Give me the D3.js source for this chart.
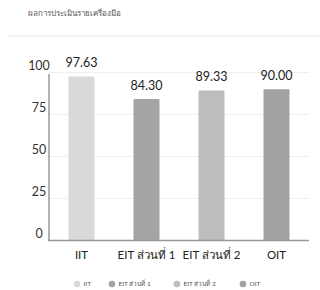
<!DOCTYPE html>
<html><head><meta charset="utf-8">
<script src="https://cdn.jsdelivr.net/npm/d3@7"></script>
<style>body{margin:0;background:#fff}svg{display:block}text{font-family:Lato,"Noto Sans",sans-serif}</style>
</head><body><svg id="c" width="320" height="290"></svg>
<script>
const title = "ผลการประเมินรายเครื่องมือ";
const categories = ["IIT", "EIT ส่วนที่ 1", "EIT ส่วนที่ 2", "OIT"];
const values = [97.63, 84.30, 89.33, 90.00];
const colors = ["#d9d9d9", "#a4a4a4", "#bdbdbd", "#a2a2a2"];
const yTicks = [0, 25, 50, 75, 100];

const svg = d3.select("#c");
svg.append("text").attr("x", 28).attr("y", 16).attr("font-size", 8).attr("fill", "#555").text(title);
svg.append("rect").attr("x", 8).attr("y", 35).attr("width", 312).attr("height", 2).attr("fill", "#f3f3f3");

const x = d3.scaleBand().domain(categories).range([49, 309]).paddingInner(0.6).paddingOuter(0.3);
const y = d3.scaleLinear().domain([0, 100]).range([240.5, 72.5]);

svg.append("g").selectAll("line").data(yTicks.filter(t => t > 0)).join("line")
  .attr("x1", 49).attr("x2", 309).attr("y1", d => y(d)).attr("y2", d => y(d))
  .attr("stroke", "#efefef").attr("stroke-width", 1);

svg.append("g").selectAll("text").data(yTicks).join("text")
  .attr("x", 39).attr("y", d => y(d) - 3).attr("text-anchor", "middle")
  .attr("font-size", 12.5).attr("fill", "#333").text(d => d);

svg.append("g").selectAll("rect").data(values).join("rect")
  .attr("x", (d, i) => x(categories[i])).attr("width", x.bandwidth())
  .attr("y", d => y(d)).attr("height", d => y(0) - y(d))
  .attr("rx", 1).attr("fill", (d, i) => colors[i]);

svg.append("g").selectAll("text").data(values).join("text")
  .attr("x", (d, i) => x(categories[i]) + x.bandwidth() / 2).attr("y", d => y(d) - 9)
  .attr("text-anchor", "middle").attr("font-size", 12.5).attr("fill", "#222")
  .text(d => d.toFixed(2));

svg.append("line").attr("x1", 49).attr("x2", 49).attr("y1", 74).attr("y2", y(0)).attr("stroke", "#999").attr("stroke-width", 1.5);
svg.append("line").attr("x1", 48).attr("x2", 309).attr("y1", y(0)).attr("y2", y(0)).attr("stroke", "#999").attr("stroke-width", 1.5);

svg.append("g").selectAll("text").data(categories).join("text")
  .attr("x", d => x(d) + x.bandwidth() / 2).attr("y", 259)
  .attr("text-anchor", "middle").attr("font-size", 11.5).attr("fill", "#222").text(d => d);

const legendX = [77, 112, 177, 243];
const lg = svg.append("g").selectAll("g").data(categories).join("g")
  .attr("transform", (d, i) => `translate(${legendX[i]},284)`);
lg.append("circle").attr("r", 3.3).attr("fill", (d, i) => colors[i]);
lg.append("text").attr("x", 6.5).attr("y", 2.2).attr("font-size", 6.5).attr("fill", "#555").text(d => d);
</script></body></html>
